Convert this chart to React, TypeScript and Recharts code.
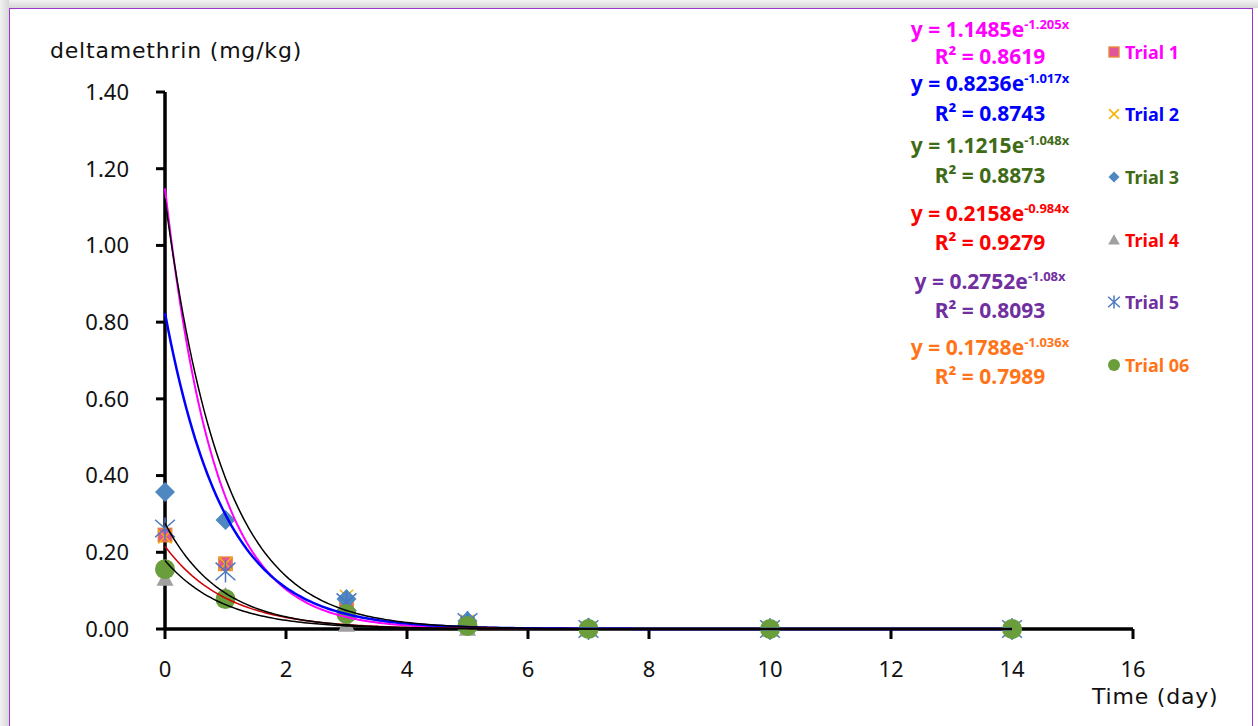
import { ScatterChart, Scatter, XAxis, YAxis } from "recharts";

const days = [0, 1, 3, 5, 7, 10, 14];
const trial1 = [0.245, 0.17, 0.065, 0.012, 0, 0, 0];
const trial2 = [0.24, 0.17, 0.085, 0.02, 0, 0, 0];
const trial3 = [0.357, 0.284, 0.078, 0.021, 0.004, 0, 0];
const trial4 = [0.13, 0.088, 0.01, 0, 0, 0, 0];
const trial5 = [0.262, 0.15, 0.07, 0.018, 0, 0, 0];
const trial6 = [0.156, 0.078, 0.039, 0.008, 0, 0, 0];

const trialNames = ["Trial 1", "Trial 2", "Trial 3", "Trial 4", "Trial 5", "Trial 06"];
const fitA = [1.1485, 0.8236, 1.1215, 0.2158, 0.2752, 0.1788];
const fitB = [-1.205, -1.017, -1.048, -0.984, -1.08, -1.036];
const fitR2 = ["0.8619", "0.8743", "0.8873", "0.9279", "0.8093", "0.7989"];

const xTicks = [0, 2, 4, 6, 8, 10, 12, 14, 16];
const yTicks = [0, 0.2, 0.4, 0.6, 0.8, 1.0, 1.2, 1.4];

const eqColors = ["#FF00FF", "#0000FF", "#3F6B17", "#FF0000", "#7030A0", "#FF7418"];
const fitColors = ["#FF00FF", "#0000FF", "#000000", "#D00000", "#000000", "#000000"];
const fitWidths = [2, 2.5, 1.5, 1.5, 1.5, 1.5];
const markerKinds = ["square", "x", "diamond", "triangle", "asterisk", "circle"];

const trials = [trial1, trial2, trial3, trial4, trial5, trial6];

// trendline of y = a*e^(bx), sampled over the data range
function curve(a: number, b: number) {
  const pts = [];
  for (let i = 0; i <= 280; i++) {
    const x = i * 0.05;
    pts.push({ x, y: a * Math.exp(b * x) });
  }
  return pts;
}

function Marker({ kind, cx, cy, s }: { kind: string; cx: number; cy: number; s: number }) {
  if (kind === "square")
    return <rect x={cx - s * 0.35} y={cy - s * 0.35} width={s * 0.7} height={s * 0.7} fill="#E0559C" stroke="#E8803A" strokeWidth={1.5} />;
  if (kind === "x")
    return (
      <g stroke="#F5B000" strokeWidth={1.5}>
        <line x1={cx - s * 0.35} y1={cy - s * 0.35} x2={cx + s * 0.35} y2={cy + s * 0.35} />
        <line x1={cx - s * 0.35} y1={cy + s * 0.35} x2={cx + s * 0.35} y2={cy - s * 0.35} />
      </g>
    );
  if (kind === "diamond")
    return <polygon points={`${cx},${cy - s * 0.5} ${cx + s * 0.5},${cy} ${cx},${cy + s * 0.5} ${cx - s * 0.5},${cy}`} fill="#4F87C0" />;
  if (kind === "triangle")
    return <polygon points={`${cx},${cy - s * 0.45} ${cx + s * 0.45},${cy + s * 0.35} ${cx - s * 0.45},${cy + s * 0.35}`} fill="#A0A0A0" />;
  if (kind === "asterisk")
    return (
      <g stroke="#4A78C0" strokeWidth={1.5}>
        <line x1={cx - s * 0.45} y1={cy - s * 0.4} x2={cx + s * 0.45} y2={cy + s * 0.4} />
        <line x1={cx - s * 0.45} y1={cy + s * 0.4} x2={cx + s * 0.45} y2={cy - s * 0.4} />
        <line x1={cx} y1={cy - s * 0.5} x2={cx} y2={cy + s * 0.5} />
      </g>
    );
  return <circle cx={cx} cy={cy} r={s * 0.5} fill="#6A9E3C" />;
}

const markerSizes = [19, 19, 20, 19, 22, 20];
const legendSizes = [14, 14, 11, 13, 13, 12];
const eqTops = [29, 83, 145, 213, 281, 347];
const r2Tops = [56, 113, 175, 242, 310, 376];
const legendTops = [52, 114, 177, 240, 302, 365];

export default function App() {
  const fits = fitA.map((a, i) => curve(a, fitB[i]));
  return (
    <div style={{ position: "absolute", left: 0, top: 0, width: 1258, height: 726, overflow: "hidden", background: "#fff" }}>
      <div style={{ position: "absolute", left: 0, top: 0, width: 1258, height: 8, background: "linear-gradient(#f2f2f2, #d6d6d6)" }} />
      <div style={{ position: "absolute", left: 0, top: 0, width: 9, height: 726, background: "linear-gradient(90deg, #f2f2f2, #d6d6d6)" }} />
      <div style={{ position: "absolute", left: 9, top: 8, width: 1242, height: 740, border: "1.5px solid #A035D0", background: "#fff" }} />

      <ScatterChart width={1258} height={726} margin={{ top: 92, right: 125, bottom: 67, left: 105 }} style={{ position: "absolute", left: 0, top: 0 }}>
        <XAxis
          type="number"
          dataKey="x"
          domain={[0, 16]}
          ticks={xTicks}
          height={30}
          axisLine={{ stroke: "#000", strokeWidth: 3.5 }}
          tickLine={{ stroke: "#000", strokeWidth: 3 }}
          tickSize={10}
          tickMargin={22}
          tick={{ fill: "#111", fontSize: 22, fontFamily: "Noto Sans" }}
        />
        <YAxis
          type="number"
          dataKey="y"
          domain={[0, 1.4]}
          ticks={yTicks}
          width={60}
          axisLine={{ stroke: "#000", strokeWidth: 3.5 }}
          tickLine={{ stroke: "#000", strokeWidth: 3 }}
          tickSize={9}
          tickMargin={27}
          tickFormatter={(v: number) => v.toFixed(2)}
          tick={{ fill: "#111", fontSize: 22, fontFamily: "Noto Sans" }}
        />
        {trials.map((vals, i) => (
          <Scatter
            key={trialNames[i]}
            name={trialNames[i]}
            data={days.map((d, j) => ({ x: d, y: vals[j] }))}
            isAnimationActive={false}
            shape={(p: any) => <Marker kind={markerKinds[i]} cx={p.cx} cy={p.cy} s={markerSizes[i]} />}
          />
        ))}
        {fits.map((pts, i) => (
          <Scatter
            key={"fit" + i}
            data={pts}
            isAnimationActive={false}
            line={{ stroke: fitColors[i], strokeWidth: fitWidths[i] }}
            lineJointType="linear"
            shape={() => <g />}
          />
        ))}
      </ScatterChart>

      <div style={{ position: "absolute", left: 50, top: 38, fontFamily: "DejaVu Sans", fontSize: 22, letterSpacing: 0.8, lineHeight: "26px", color: "#111", whiteSpace: "nowrap" }}>
        deltamethrin (mg/kg)
      </div>
      <div style={{ position: "absolute", left: 1092, top: 684, fontFamily: "DejaVu Sans", fontSize: 22, letterSpacing: 0.8, lineHeight: "26px", color: "#111", whiteSpace: "nowrap" }}>
        Time (day)
      </div>

      {fitA.map((a, i) => (
        <div key={"eq" + i}>
          <div style={{ position: "absolute", left: 880, width: 220, top: eqTops[i] - 11, height: 22, textAlign: "center", fontFamily: "Noto Sans", fontWeight: 700, fontSize: 21, lineHeight: "22px", color: eqColors[i], whiteSpace: "nowrap" }}>
            y = {a.toFixed(4)}e<span style={{ fontSize: 13, verticalAlign: "8px", lineHeight: "10px" }}>{fitB[i]}x</span>
          </div>
          <div style={{ position: "absolute", left: 880, width: 220, top: r2Tops[i] - 11, height: 22, textAlign: "center", fontFamily: "Noto Sans", fontWeight: 700, fontSize: 21, lineHeight: "22px", color: eqColors[i], whiteSpace: "nowrap" }}>
            R² = {fitR2[i]}
          </div>
        </div>
      ))}

      {trialNames.map((n, i) => (
        <div key={"lg" + i} style={{ position: "absolute", left: 1104, top: legendTops[i] - 12, height: 24, display: "flex", alignItems: "center", whiteSpace: "nowrap" }}>
          <svg width={20} height={20} style={{ display: "block" }}>
            <Marker kind={markerKinds[i]} cx={10} cy={10} s={legendSizes[i]} />
          </svg>
          <span style={{ marginLeft: 1, fontFamily: "Noto Sans", fontWeight: 700, fontSize: 18, color: eqColors[i] }}>{n}</span>
        </div>
      ))}
    </div>
  );
}
